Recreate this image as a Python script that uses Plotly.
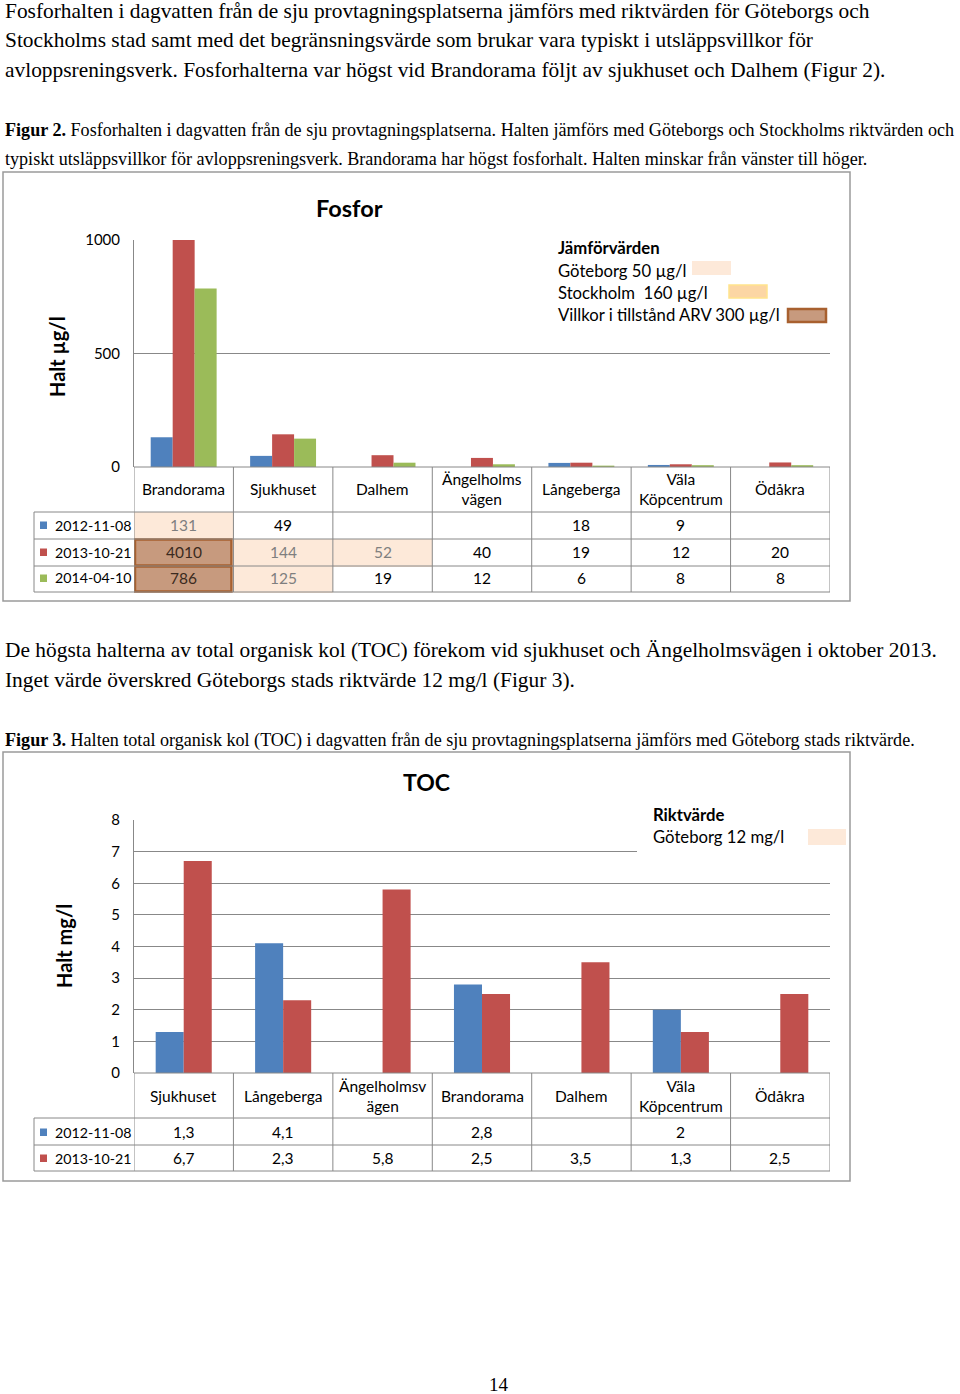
import plotly.graph_objects as go

# ---------------- DATA ----------------
fos_categories = ["Brandorama", "Sjukhuset", "Dalhem", "Ängelholmsvägen",
                  "Långeberga", "Väla Köpcentrum", "Ödåkra"]
fos_labels = ["Brandorama", "Sjukhuset", "Dalhem", "Ängelholms<br>vägen",
              "Långeberga", "Väla<br>Köpcentrum", "Ödåkra"]
fos_series = ["2012-11-08", "2013-10-21", "2014-04-10"]
fos_2012 = [131, 49, None, None, 18, 9, None]
fos_2013 = [4010, 144, 52, 40, 19, 12, 20]
fos_2014 = [786, 125, 19, 12, 6, 8, 8]
fos_yticks = [0, 500, 1000]
fos_limit_gbg = 50
fos_limit_sthlm = 160
fos_limit_arv = 300

toc_categories = ["Sjukhuset", "Långeberga", "Ängelholmsvägen", "Brandorama",
                  "Dalhem", "Väla Köpcentrum", "Ödåkra"]
toc_labels = ["Sjukhuset", "Långeberga", "Ängelholmsv<br>ägen", "Brandorama",
              "Dalhem", "Väla<br>Köpcentrum", "Ödåkra"]
toc_series = ["2012-11-08", "2013-10-21"]
toc_2012 = [1.3, 4.1, None, 2.8, None, 2, None]
toc_2013 = [6.7, 2.3, 5.8, 2.5, 3.5, 1.3, 2.5]
toc_yticks = [0, 1, 2, 3, 4, 5, 6, 7, 8]
toc_limit = 12

# ---------------- STYLE ----------------
W, H = 960, 1394
def X(px): return px / W
def Y(py): return 1 - py / H

BLUE, RED, GREEN = "#4F81BD", "#C0504D", "#9BBB59"
GRID = "#888888"
PEACH = "#FDE9D9"
SANS = "Lato, Open Sans, sans-serif"
SERIF = "Liberation Serif, DejaVu Serif, serif"

fig = go.Figure()

# Fosfor bars
for vals, col, off, nm in [(fos_2012, BLUE, -0.332, fos_series[0]),
                           (fos_2013, RED, -0.111, fos_series[1]),
                           (fos_2014, GREEN, 0.110, fos_series[2])]:
    fig.add_trace(go.Bar(x=fos_categories, y=vals, name=nm, marker_color=col,
                         marker_line_width=0, width=0.221, offset=off,
                         xaxis="x", yaxis="y", showlegend=False, hoverinfo="skip"))
# TOC bars
for vals, col, off, nm in [(toc_2012, BLUE, -0.282, toc_series[0]),
                           (toc_2013, RED, 0.0, toc_series[1])]:
    fig.add_trace(go.Bar(x=toc_categories, y=vals, name=nm, marker_color=col,
                         marker_line_width=0, width=0.282, offset=off,
                         xaxis="x2", yaxis="y2", showlegend=False, hoverinfo="skip"))

axis_common = dict(showgrid=False, zeroline=False, showline=False, automargin=False,
                   showticklabels=False, ticks="", range=[-0.5, 6.5], fixedrange=True)
yaxis_common = dict(showgrid=True, gridcolor=GRID, gridwidth=1, zeroline=False,
                    showline=True, linecolor=GRID, linewidth=1, ticks="", automargin=False,
                    tickfont=dict(family=SANS, size=15, color="#000"),
                    ticklabelstandoff=10, fixedrange=True)

fig.update_layout(
    template="none",
    width=W, height=H, margin=dict(l=0, r=0, t=0, b=0, pad=0, autoexpand=False),
    paper_bgcolor="white", plot_bgcolor="white", barmode="overlay",
    xaxis=dict(domain=[X(134), X(830)], anchor="y", type="category",
               categoryarray=fos_categories, **axis_common),
    yaxis=dict(domain=[Y(467), Y(240)], anchor="x", range=[0, 1000],
               tickvals=fos_yticks, **yaxis_common),
    xaxis2=dict(domain=[X(134), X(830)], anchor="y2", type="category",
                categoryarray=toc_categories, **axis_common),
    yaxis2=dict(domain=[Y(1073), Y(820)], anchor="x2", range=[0, 8],
                tickvals=toc_yticks, **yaxis_common),
)

shapes = []
ann = []

def hline(y, x0, x1, xref="paper", color=GRID, w=1):
    shapes.append(dict(type="line", xref=xref, yref="paper", x0=x0, x1=x1,
                       y0=Y(y), y1=Y(y), line=dict(color=color, width=w)))

def text(x, y, s, size, xref="paper", xanchor="center", family=SANS, color="#000",
         yanchor="middle", textangle=0):
    ann.append(dict(x=x, y=Y(y), xref=xref,
                    yref="paper", text=s, showarrow=False, xanchor=xanchor,
                    yanchor=yanchor, textangle=textangle,
                    font=dict(family=family, size=size, color=color)))

# ---------------- Page text ----------------
body = 21.4
text(X(3), 11, "Fosforhalten i dagvatten från de sju provtagningsplatserna jämförs med riktvärden för Göteborgs och", body, xanchor="left", family=SERIF)
text(X(3), 40, "Stockholms stad samt med det begränsningsvärde som brukar vara typiskt i utsläppsvillkor för", body, xanchor="left", family=SERIF)
text(X(3), 70, "avloppsreningsverk. Fosforhalterna var högst vid Brandorama följt av sjukhuset och Dalhem (Figur 2).", body, xanchor="left", family=SERIF)
cap = 18.1
text(X(3), 130, "<b>Figur 2.</b> Fosforhalten i dagvatten från de sju provtagningsplatserna. Halten jämförs med Göteborgs och Stockholms riktvärden och", cap, xanchor="left", family=SERIF)
text(X(3), 159, "typiskt utsläppsvillkor för avloppsreningsverk. Brandorama har högst fosforhalt. Halten minskar från vänster till höger.", cap, xanchor="left", family=SERIF)
text(X(3), 650, "De högsta halterna av total organisk kol (TOC) förekom vid sjukhuset och Ängelholmsvägen i oktober 2013.", body, xanchor="left", family=SERIF)
text(X(3), 680, "Inget värde överskred Göteborgs stads riktvärde 12 mg/l (Figur 3).", body, xanchor="left", family=SERIF)
text(X(3), 740, "<b>Figur 3.</b> Halten total organisk kol (TOC) i dagvatten från de sju provtagningsplatserna jämförs med Göteborg stads riktvärde.", cap, xanchor="left", family=SERIF)
text(X(499), 1384, "14", 19, family=SERIF)

# ---------------- Chart frames ----------------
for top, bot in [(172, 601), (752, 1181)]:
    shapes.append(dict(type="rect", xref="paper", yref="paper", x0=X(3), x1=X(850),
                       y0=Y(bot), y1=Y(top), line=dict(color="#9A9A9A", width=1.5)))

# ---------------- Fosfor chart ----------------
text(X(349), 208, "<b>Fosfor</b>", 23.5)
text(X(57), 357, "<b>Halt µg/l</b>", 20, textangle=-90)

# legend box (covers gridline)
shapes.append(dict(type="rect", xref="paper", yref="paper", x0=X(542), x1=X(831),
                   y0=Y(350), y1=Y(236), fillcolor="white", line=dict(width=0), layer="above"))
LEG = 16.7
text(X(556), 248, "<b>Jämförvärden</b>", LEG, xanchor="left")
text(X(556), 271, "Göteborg %d µg/l" % fos_limit_gbg, LEG, xanchor="left")
text(X(556), 293, "Stockholm  %d µg/l" % fos_limit_sthlm, LEG, xanchor="left")
text(X(556), 315, "Villkor i tillstånd ARV %d µg/l" % fos_limit_arv, LEG, xanchor="left")
shapes.append(dict(type="rect", xref="paper", yref="paper", x0=X(692), x1=X(731),
                   y0=Y(275), y1=Y(261), fillcolor=PEACH, line=dict(width=0), layer="above"))
shapes.append(dict(type="rect", xref="paper", yref="paper", x0=X(729), x1=X(767),
                   y0=Y(298), y1=Y(285), fillcolor="#FCD6A4",
                   line=dict(color="#FFE48C", width=1.5), layer="above"))
shapes.append(dict(type="rect", xref="paper", yref="paper", x0=X(788), x1=X(826),
                   y0=Y(322), y1=Y(309), fillcolor="#C79A7E",
                   line=dict(color="#A8602F", width=2.5), layer="above"))

TF = 15.5
DF = 14.2
# table
fos_rows = [(fos_2012, BLUE, fos_series[0], 525), (fos_2013, RED, fos_series[1], 552),
            (fos_2014, GREEN, fos_series[2], 578)]
row_edges = {525: (512, 539), 552: (539, 566), 578: (566, 592)}
for vals, col, nm, yc in fos_rows:
    y0, y1 = row_edges[yc]
    for i, v in enumerate(vals):
        if v is None:
            continue
        if v > fos_limit_arv:
            shapes.append(dict(type="rect", xref="x", yref="paper", x0=i - 0.49, x1=i + 0.48,
                               y0=Y(y1 - 0.5), y1=Y(y0 + 0.5), fillcolor="#C79A7E",
                               line=dict(color="#A8602F", width=2.5), layer="below"))
            c = "#3B2A20"
        elif v > fos_limit_gbg:
            shapes.append(dict(type="rect", xref="x", yref="paper", x0=i - 0.5, x1=i + 0.5,
                               y0=Y(y1 + 1), y1=Y(y0), fillcolor=PEACH,
                               line=dict(width=0), layer="below"))
            c = "#7F7F7F"
        else:
            c = "#000"
        text(fos_categories[i], yc, str(v), TF, xref="x", color=c)
    shapes.append(dict(type="rect", xref="paper", yref="paper", x0=X(40), x1=X(47),
                       y0=Y(yc + 4), y1=Y(yc - 3.5), fillcolor=col, line=dict(width=0)))
    text(X(53), yc, nm, DF, xanchor="left")
for i, lab in enumerate(fos_labels):
    text(fos_categories[i], 489, lab, TF, xref="x")
hline(467, X(134), X(830))
for y in (512, 539, 566, 592):
    hline(y, X(34), X(830))
for i in range(8):
    shapes.append(dict(type="line", xref="x", yref="paper", x0=i - 0.5, x1=i - 0.5,
                       y0=Y(592), y1=Y(467), line=dict(color=GRID, width=1)))
shapes.append(dict(type="line", xref="paper", yref="paper", x0=X(34), x1=X(34),
                   y0=Y(592), y1=Y(512), line=dict(color=GRID, width=1)))

# ---------------- TOC chart ----------------
text(X(426), 782, "<b>TOC</b>", 23)
text(X(64), 946, "<b>Halt mg/l</b>", 20, textangle=-90)
shapes.append(dict(type="rect", xref="paper", yref="paper", x0=X(637), x1=X(831),
                   y0=Y(858), y1=Y(812), fillcolor="white", line=dict(width=0), layer="above"))
text(X(651), 815, "<b>Riktvärde</b>", LEG, xanchor="left")
text(X(651), 837, "Göteborg %d mg/l" % toc_limit, LEG, xanchor="left")
shapes.append(dict(type="rect", xref="paper", yref="paper", x0=X(808), x1=X(846),
                   y0=Y(845), y1=Y(829), fillcolor=PEACH, line=dict(width=0), layer="above"))

def fmt(v):
    return str(v).replace(".", ",")

toc_rows = [(toc_2012, BLUE, toc_series[0], 1132), (toc_2013, RED, toc_series[1], 1158)]
for vals, col, nm, yc in toc_rows:
    for i, v in enumerate(vals):
        if v is None:
            continue
        text(toc_categories[i], yc, fmt(v), TF, xref="x2")
    shapes.append(dict(type="rect", xref="paper", yref="paper", x0=X(40), x1=X(47),
                       y0=Y(yc + 4), y1=Y(yc - 3.5), fillcolor=col, line=dict(width=0)))
    text(X(53), yc, nm, DF, xanchor="left")
for i, lab in enumerate(toc_labels):
    text(toc_categories[i], 1096, lab, TF, xref="x2")
hline(1073, X(134), X(830))
for y in (1118, 1145, 1171):
    hline(y, X(34), X(830))
for i in range(8):
    shapes.append(dict(type="line", xref="x2", yref="paper", x0=i - 0.5, x1=i - 0.5,
                       y0=Y(1171), y1=Y(1073), line=dict(color=GRID, width=1)))
shapes.append(dict(type="line", xref="paper", yref="paper", x0=X(34), x1=X(34),
                   y0=Y(1171), y1=Y(1118), line=dict(color=GRID, width=1)))

fig.update_layout(shapes=shapes, annotations=ann)
fig.write_html("out.html", config={"displayModeBar": False, "staticPlot": True},
               post_script="document.body.style.margin='0px';document.body.style.overflow='hidden';")
